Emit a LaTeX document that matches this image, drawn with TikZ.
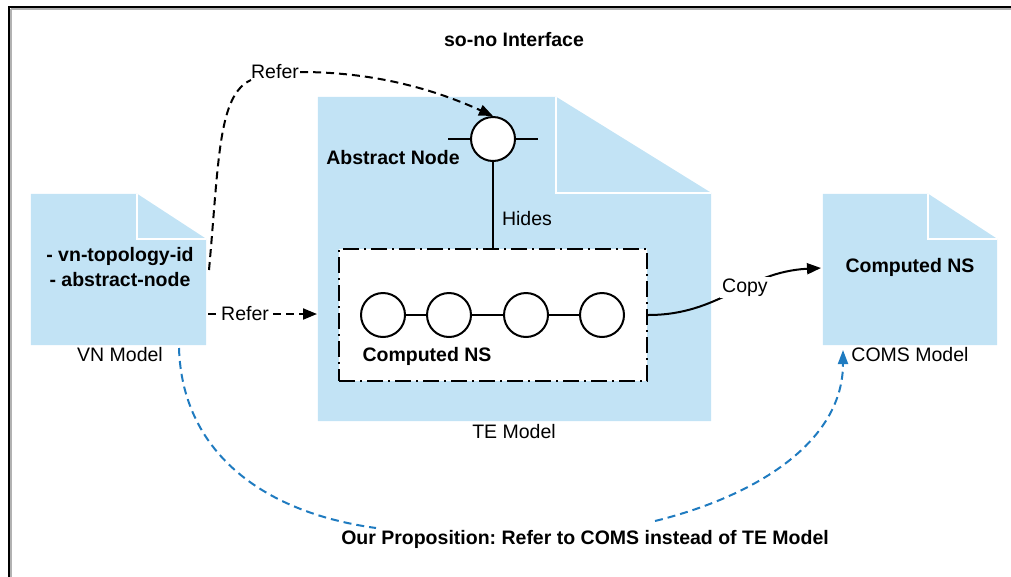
\documentclass[tikz,border=0pt]{standalone}
\usepackage{fontspec}
\setmainfont{Liberation Sans}
\usetikzlibrary{arrows.meta,calc}
\definecolor{docblue}{RGB}{194,227,245}
\definecolor{propblue}{RGB}{31,123,192}
\frenchspacing
\tikzset{
  docnode/.style={draw=none,inner sep=0pt,rectangle},
  lbl/.style={font=\fontsize{19.5}{22}\selectfont,inner sep=1pt},
  blbl/.style={font=\fontsize{19.5}{22}\selectfont\bfseries,inner sep=1pt},
  nsnode/.style={circle,draw,line width=2pt,fill=white,minimum size=44pt,inner sep=0pt},
  tip/.style={-{Triangle[length=14pt,width=11pt]}},
  referline/.style={line width=2pt,dash pattern=on 8pt off 5pt,tip},
  propline/.style={line width=2pt,dash pattern=on 8pt off 5pt,draw=propblue,-{Triangle[length=14pt,width=10pt]}},
  dashdotbox/.style={draw,line width=2.2pt,fill=white,dash pattern=on 16pt off 5pt on 2pt off 5pt,inner sep=0pt}
}
\newcommand\docfill[3]{%
  \fill[docblue] (#1.north west) -- ([xshift=-#2pt]#1.north east) -- ([yshift=-#3pt]#1.north east) -- (#1.south east) -- (#1.south west) -- cycle;
  \draw[white,line width=2pt] ([xshift=-#2pt]#1.north east) -- ([xshift=-#2pt,yshift=-#3pt]#1.north east) -- ([yshift=-#3pt]#1.north east);
}
\begin{document}
\begin{tikzpicture}[x=1pt,y=-1pt]
\useasboundingbox (0,0) rectangle (1011,576);
% frame
\draw[gray!60,line width=3.5pt] (10.5,8.5) -- (1040,8.5);
\draw[gray!60,line width=3.5pt] (10.5,8.5) -- (10.5,600);
\draw[line width=2pt] (1040,7) -- (9,7) -- (9,600);

% documents
\node[docnode,minimum width=175pt,minimum height=151pt] (vn) at (118.5,269.5) {};
\node[docnode,minimum width=393pt,minimum height=324pt] (te) at (514.5,259) {};
\node[docnode,minimum width=174pt,minimum height=151pt] (coms) at (910,269.5) {};
\docfill{vn}{69}{45}
\docfill{te}{155}{96}
\docfill{coms}{69}{45}

% texts
\node[blbl] (title) at (514,40) {so-no Interface};
\node[blbl] (vn1) at (120,256) {- vn-topology-id};
\node[blbl] (vn2) at (120,280) {- abstract-node};
\node[lbl] (vnm) at (120,355) {VN Model};
\node[lbl] (tem) at (514,432) {TE Model};
\node[lbl] (comsm) at (910,355) {COMS Model};
\node[blbl] (comsns) at (910,267) {Computed NS};
\node[blbl] (absl) at (393,158) {Abstract Node};
\node[blbl] (prop) at (585,539) {Our Proposition: Refer to COMS instead of TE Model};

% computed NS box
\node[dashdotbox,minimum width=308pt,minimum height=132pt] (cns) at (493,315) {};
\node[blbl] (cnsl) at (427,356) {Computed NS};
\node[nsnode] (c1) at (383,315) {};
\node[nsnode] (c2) at (449,315) {};
\node[nsnode] (c3) at (526,315) {};
\node[nsnode] (c4) at (602,315) {};
\draw[line width=2pt] (c1) -- (c2) (c2) -- (c3) (c3) -- (c4);

% abstract node
\node[nsnode] (abs) at (493,139) {};
\draw[line width=2pt] ([xshift=-22pt]abs.west) -- (abs.west) (abs.east) -- ([xshift=22pt]abs.east);
\draw[line width=2pt] (abs.south) -- (cns.north) node[lbl,pos=0.66,anchor=west,xshift=7pt] (hides) {Hides};

% Refer (top)
\coordinate (r1s) at (209,270);
\node[lbl] (refer1) at (275,72) {Refer};
\draw[line width=2pt,dash pattern=on 8pt off 5pt] (r1s) .. controls (219,160) and (218,95) .. ([xshift=1pt,yshift=-8pt]refer1.west);
\draw[referline] (refer1.east) .. controls (380,72) and (440,92) .. (abs.north);

% Refer (middle)
\coordinate (r2s) at (208,314);
\coordinate (r2e) at (317,314);
\draw[referline] (r2s) -- (r2e) node[lbl,pos=0.34,fill=white] (refer2) {Refer};

% Copy
\coordinate (cpe) at (821,268);
\draw[line width=2pt,tip] (cns.east) .. controls (720,315) and (745,272) .. (cpe) node[lbl,pos=0.58,fill=white,inner sep=2pt] (copy) {Copy};

% proposition
\coordinate (ps) at (179,348);
\coordinate (pl) at (376,528);
\coordinate (pr) at (655,521);
\coordinate (pe) at (843,350);
\draw[line width=2pt,dash pattern=on 8pt off 5pt,draw=propblue] (ps) .. controls (182,450) and (260,512) .. (pl);
\draw[propline] (pr) .. controls (760,495) and (843,440) .. (pe);
\end{tikzpicture}
\end{document}
